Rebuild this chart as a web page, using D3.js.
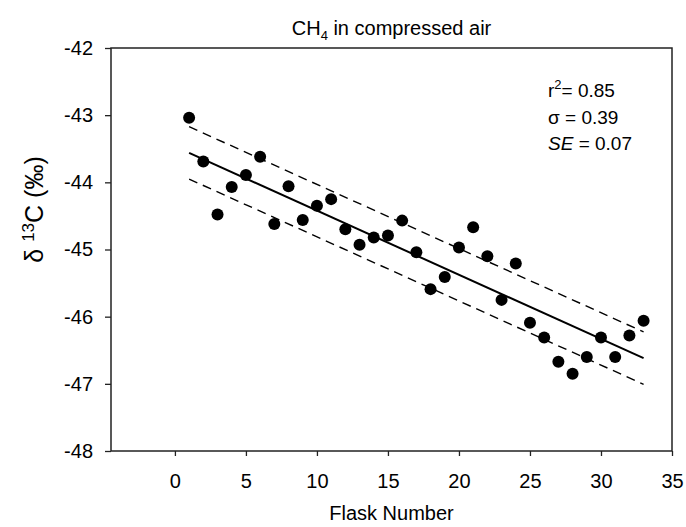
<!DOCTYPE html>
<html>
<head>
<meta charset="utf-8">
<script src="https://cdn.jsdelivr.net/npm/d3@7"></script>
<style>
  body { margin: 0; background: #fff; }
  svg { font-family: "Liberation Sans", Arial, sans-serif; }
</style>
</head>
<body>
<script>
// flask number vs delta 13C (permil)
let flask = [1, 2, 3, 4, 5, 6, 7, 8, 9, 10, 11, 12, 13, 14, 15, 16, 17,
             18, 19, 20, 21, 22, 23, 24, 25, 26, 27, 28, 29, 30, 31, 32, 33];
let d13C = [-43.04, -43.69, -44.48, -44.07, -43.89, -43.62, -44.62, -44.06, -44.56, -44.35,
            -44.25, -44.70, -44.93, -44.82, -44.79, -44.57, -45.04, -45.59, -45.41, -44.97,
            -44.67, -45.10, -45.75, -45.21, -46.09, -46.31, -46.67, -46.85, -46.60, -46.31,
            -46.60, -46.28, -46.06];
let xTicks = [0, 5, 10, 15, 20, 25, 30, 35];
let yTicks = [-48, -47, -46, -45, -44, -43, -42];
let rSquared = "0.85";
let sigma = 0.39;
let stdErr = "0.07";

let W = 686, H = 527;
let margin = {top: 48, right: 14, bottom: 76, left: 111};
let width = W - margin.left - margin.right,
    height = H - margin.top - margin.bottom;

let svg = d3.select("body").append("svg")
    .attr("width", W)
    .attr("height", H);

let g = svg.append("g")
    .attr("transform", "translate(" + margin.left + "," + margin.top + ")");

let x = d3.scaleLinear().domain([-4.5, 35]).range([0, width]);
let y = d3.scaleLinear().domain([-48, -42]).range([height, 0]);

let data = flask.map((f, i) => ({x: f, y: d13C[i]}));

// least squares fit
let mx = d3.mean(flask), my = d3.mean(d13C);
let sxy = d3.sum(data, d => (d.x - mx) * (d.y - my));
let sxx = d3.sum(data, d => (d.x - mx) * (d.x - mx));
let slope = sxy / sxx;
let icpt = my - slope * mx;
let xEnds = d3.extent(flask);

// axes (plain hyphen minus like the original)
let xAxis = d3.axisBottom(x).tickValues(xTicks).tickSize(5).tickPadding(18)
    .tickFormat(d => String(d));
let yAxis = d3.axisLeft(y).tickValues(yTicks).tickSize(6).tickPadding(12)
    .tickFormat(d => String(d));

g.append("g")
    .attr("transform", "translate(0," + height + ")")
    .call(xAxis)
    .call(s => s.select(".domain").remove())
    .call(s => s.selectAll("line").attr("stroke", "#222").attr("stroke-width", 1.3))
    .selectAll("text")
    .attr("fill", "#000")
    .style("font-size", "20px");

g.append("g")
    .call(yAxis)
    .call(s => s.select(".domain").remove())
    .call(s => s.selectAll("line").attr("stroke", "#222").attr("stroke-width", 1.3))
    .selectAll("text")
    .attr("fill", "#000")
    .style("font-size", "20px");

// frame
g.append("rect")
    .attr("width", width)
    .attr("height", height)
    .attr("fill", "none")
    .attr("stroke", "#222")
    .attr("stroke-width", 1.5);

// fit and +/- sigma lines
let lines = [
  {off: 0, dash: null, sw: 2},
  {off: sigma, dash: "9,6", sw: 1.4},
  {off: -sigma, dash: "9,6", sw: 1.4}
];
g.selectAll(".fit")
    .data(lines)
    .enter().append("line")
    .attr("class", "fit")
    .attr("x1", x(xEnds[0]))
    .attr("x2", x(xEnds[1]))
    .attr("y1", d => y(icpt + slope * xEnds[0] + d.off))
    .attr("y2", d => y(icpt + slope * xEnds[1] + d.off))
    .attr("stroke", "#000")
    .attr("stroke-width", d => d.sw)
    .attr("stroke-dasharray", d => d.dash);

// points
g.selectAll(".dot")
    .data(data)
    .enter().append("circle")
    .attr("class", "dot")
    .attr("cx", d => x(d.x))
    .attr("cy", d => y(d.y))
    .attr("r", 6)
    .attr("fill", "#000");

// title
let title = svg.append("text")
    .attr("x", margin.left + width / 2)
    .attr("y", 35)
    .attr("text-anchor", "middle")
    .style("font-size", "20px");
title.append("tspan").text("CH");
title.append("tspan").attr("dy", 5).style("font-size", "13px").text("4");
title.append("tspan").attr("dy", -5).text(" in compressed air");

// axis titles
svg.append("text")
    .attr("x", margin.left + width / 2)
    .attr("y", 520)
    .attr("text-anchor", "middle")
    .style("font-size", "20px")
    .text("Flask Number");

let yl = svg.append("text")
    .attr("transform", "translate(43," + (margin.top + height / 2 - 40) + ") rotate(-90)")
    .attr("text-anchor", "middle")
    .style("font-size", "25px");
yl.append("tspan").text("\u03B4 ");
yl.append("tspan").attr("dy", -9).style("font-size", "17px").text("13");
yl.append("tspan").attr("dy", 9).text("C (\u2030)");

// stats box
let sx = 548;
let t1 = svg.append("text").attr("x", sx).attr("y", 97).style("font-size", "19px");
t1.append("tspan").text("r");
t1.append("tspan").attr("dy", -8).style("font-size", "13px").text("2");
t1.append("tspan").attr("dy", 8).text("= " + rSquared);

svg.append("text").attr("x", sx).attr("y", 124).style("font-size", "19px")
    .text("\u03C3 = " + sigma.toFixed(2));

let t3 = svg.append("text").attr("x", sx).attr("y", 150).style("font-size", "19px");
t3.append("tspan").style("font-style", "italic").text("SE");
t3.append("tspan").text(" = " + stdErr);
</script>
</body>
</html>
